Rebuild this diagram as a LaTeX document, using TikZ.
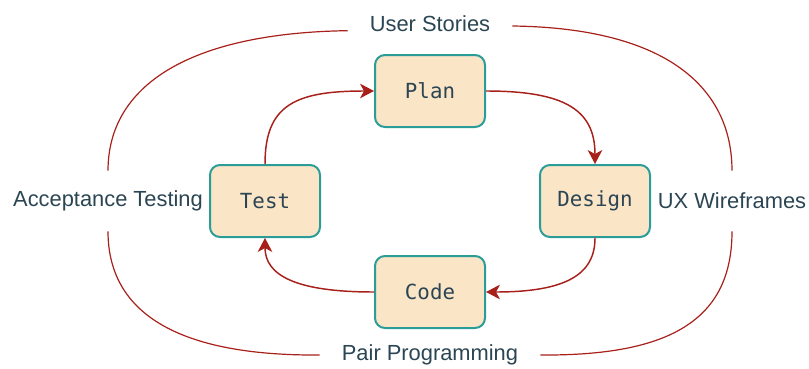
\documentclass[tikz,border=0pt]{standalone}
\usepackage{fontspec}
\setmainfont{Liberation Sans}
\newfontfamily\boxmono{DejaVu Sans Mono}
\usetikzlibrary{arrows.meta}
\definecolor{boxfill}{HTML}{FAE5C7}
\definecolor{boxline}{HTML}{2A9D98}
\definecolor{txt}{HTML}{2B4553}
\definecolor{edge}{HTML}{A8201A}
\begin{document}
\begin{tikzpicture}[x=0.75pt,y=-0.75pt,
  stepbox/.style={draw=boxline, fill=boxfill, line width=1.5pt, rounded corners=7.5pt,
    minimum width=82.5pt, minimum height=54pt, inner sep=0pt, text=txt,
    font=\boxmono\fontsize{15.6}{18}\selectfont},
  lab/.style={text=txt, inner sep=0pt, font=\fontsize{16.4}{19}\selectfont},
  flow/.style={draw=edge, line width=1.1pt, -{Stealth[length=10.5pt,width=11pt,inset=3pt]}},
  outer/.style={draw=edge, line width=0.9pt}]
\useasboundingbox (0,0) rectangle (809,368);
\node[stepbox] (plan) at (430,91) {Plan};
\node[stepbox] (test) at (265,201) {Test};
\node[stepbox] (design) at (595,201) {Design};
\node[stepbox] (code) at (430,292) {Code};
\node[lab, minimum width=123pt] (us) at (430,24) {User Stories};
\node[lab, minimum height=45pt] (at) at (108,201) {Acceptance Testing};
\node[lab, minimum height=45pt] (ux) at (732,201) {UX Wireframes};
\node[lab, minimum width=165pt] (pp) at (430,355) {Pair Programming};
% inner cycle
\draw[flow] (test.north) .. controls (265,105) and (295,91) .. (plan.west);
\draw[flow] (plan.east) .. controls (565,91) and (595,110) .. (design.north);
\draw[flow] (design.south) .. controls (595,275) and (565,292) .. (code.east);
\draw[flow] (code.west) .. controls (295,292) and (265,275) .. (test.south);
% outer ring
\draw[outer] ([yshift=-5pt]us.west) .. controls (190,33) and (108,85) .. (at.north);
\draw[outer] (at.south) .. controls (108,320) and (190,356) .. (pp.west);
\draw[outer] ([yshift=-1.5pt]us.east) .. controls (670,28) and (732,90) .. (ux.north);
\draw[outer] (ux.south) .. controls (732,320) and (670,356) .. (pp.east);
\end{tikzpicture}
\end{document}
